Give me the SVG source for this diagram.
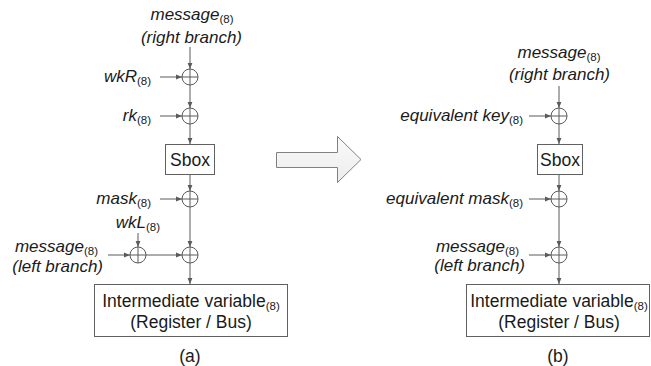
<svg xmlns="http://www.w3.org/2000/svg" width="651" height="366" viewBox="0 0 651 366">
<defs>
<marker id="ah" markerUnits="userSpaceOnUse" markerWidth="6" markerHeight="6" viewBox="0 0 6 6" refX="6" refY="3" orient="auto">
<path d="M0,0.6 L6,3 L0,5.4 Z" fill="#5a5a5a"/>
</marker>
<linearGradient id="ag" x1="0" y1="0" x2="0" y2="1">
<stop offset="0" stop-color="#fafafa"/>
<stop offset="1" stop-color="#ececec"/>
</linearGradient>
</defs>
<style>
text{font-family:"Liberation Sans",Arial,sans-serif;fill:#1a1a1a}
.it{font-style:italic;font-size:17px}
.bx{font-size:17.5px}
.sub{font-size:11.5px;font-style:normal}
.box{fill:#fff;stroke:#606060;stroke-width:1}
.xor circle{fill:#fff;stroke:#5a5a5a;stroke-width:1}
.xor path{stroke:#5a5a5a;stroke-width:1;fill:none}
.c line{stroke:#5a5a5a;stroke-width:1;marker-end:url(#ah)}
</style>
<g id="connectors" class="c">
<line x1="190" y1="47" x2="190" y2="69"/>
<line x1="190" y1="85" x2="190" y2="108"/>
<line x1="190" y1="124" x2="190" y2="144"/>
<line x1="190" y1="174" x2="190" y2="191"/>
<line x1="190" y1="207" x2="190" y2="247"/>
<line x1="190" y1="263" x2="190" y2="284"/>
<line x1="160" y1="77" x2="182" y2="77"/>
<line x1="160" y1="116" x2="182" y2="116"/>
<line x1="160" y1="199" x2="182" y2="199"/>
<line x1="138" y1="233" x2="138" y2="247"/>
<line x1="108" y1="255" x2="130" y2="255"/>
<line x1="146" y1="255" x2="182" y2="255"/>
<line x1="559" y1="86" x2="559" y2="108"/>
<line x1="559" y1="124" x2="559" y2="144"/>
<line x1="559" y1="174" x2="559" y2="191"/>
<line x1="559" y1="207" x2="559" y2="247"/>
<line x1="559" y1="263" x2="559" y2="284"/>
<line x1="529" y1="116" x2="551" y2="116"/>
<line x1="529" y1="199" x2="551" y2="199"/>
<line x1="529" y1="255" x2="551" y2="255"/>
</g>
<g id="xorA1" class="xor"><circle cx="190" cy="77" r="8"/><path d="M182,77H198M190,69V85"/></g>
<g id="xorA2" class="xor"><circle cx="190" cy="116" r="8"/><path d="M182,116H198M190,108V124"/></g>
<g id="xorA3" class="xor"><circle cx="190" cy="199" r="8"/><path d="M182,199H198M190,191V207"/></g>
<g id="xorA4" class="xor"><circle cx="138" cy="255" r="8"/><path d="M130,255H146M138,247V263"/></g>
<g id="xorA5" class="xor"><circle cx="190" cy="255" r="8"/><path d="M182,255H198M190,247V263"/></g>
<g id="xorB1" class="xor"><circle cx="559" cy="116" r="8"/><path d="M551,116H567M559,108V124"/></g>
<g id="xorB2" class="xor"><circle cx="559" cy="199" r="8"/><path d="M551,199H567M559,191V207"/></g>
<g id="xorB3" class="xor"><circle cx="559" cy="255" r="8"/><path d="M551,255H567M559,247V263"/></g>
<g id="sboxA"><rect class="box" x="165.5" y="144.5" width="49" height="30"/><text class="bx" x="190" y="165.5" text-anchor="middle">Sbox</text></g>
<g id="sboxB"><rect class="box" x="537.5" y="144.5" width="45" height="30"/><text class="bx" x="560" y="165.5" text-anchor="middle">Sbox</text></g>
<g id="regA"><rect class="box" x="94.5" y="284.5" width="193" height="52"/>
<text class="bx" x="191" y="307" text-anchor="middle">Intermediate variable<tspan class="sub" dy="3">(8)</tspan></text>
<text class="bx" x="191" y="328" text-anchor="middle">(Register / Bus)</text></g>
<g id="regB"><rect class="box" x="466.5" y="284.5" width="183" height="52"/>
<text class="bx" x="559" y="307" text-anchor="middle">Intermediate variable<tspan class="sub" dy="3">(8)</tspan></text>
<text class="bx" x="559" y="328" text-anchor="middle">(Register / Bus)</text></g>
<g id="labelsA">
<text class="it" x="192" y="20" text-anchor="middle">message<tspan class="sub" dy="3">(8)</tspan></text>
<text class="it" x="191.5" y="43" text-anchor="middle">(right branch)</text>
<text class="it" x="151" y="82" text-anchor="end">wkR<tspan class="sub" dy="3">(8)</tspan></text>
<text class="it" x="151" y="121" text-anchor="end">rk<tspan class="sub" dy="3">(8)</tspan></text>
<text class="it" x="151" y="204" text-anchor="end">mask<tspan class="sub" dy="3">(8)</tspan></text>
<text class="it" x="160" y="228" text-anchor="end">wkL<tspan class="sub" dy="3">(8)</tspan></text>
<text class="it" x="98" y="252" text-anchor="end">message<tspan class="sub" dy="3">(8)</tspan></text>
<text class="it" x="103" y="272" text-anchor="end">(left branch)</text>
<text class="bx" x="190" y="362" text-anchor="middle">(a)</text>
</g>
<g id="labelsB">
<text class="it" x="559" y="58" text-anchor="middle">message<tspan class="sub" dy="3">(8)</tspan></text>
<text class="it" x="559.5" y="80" text-anchor="middle">(right branch)</text>
<text class="it" x="523" y="121" text-anchor="end">equivalent key<tspan class="sub" dy="3">(8)</tspan></text>
<text class="it" x="523" y="204" text-anchor="end">equivalent mask<tspan class="sub" dy="3">(8)</tspan></text>
<text class="it" x="519" y="252" text-anchor="end">message<tspan class="sub" dy="3">(8)</tspan></text>
<text class="it" x="525" y="271" text-anchor="end">(left branch)</text>
<text class="bx" x="558" y="362" text-anchor="middle">(b)</text>
</g>
<g id="bigArrow"><path d="M276.5,152.5 H337.5 V136.5 L361,159.5 L337.5,182.5 V167.5 H276.5 Z" fill="url(#ag)" stroke="#808080" stroke-width="1"/></g>
</svg>
